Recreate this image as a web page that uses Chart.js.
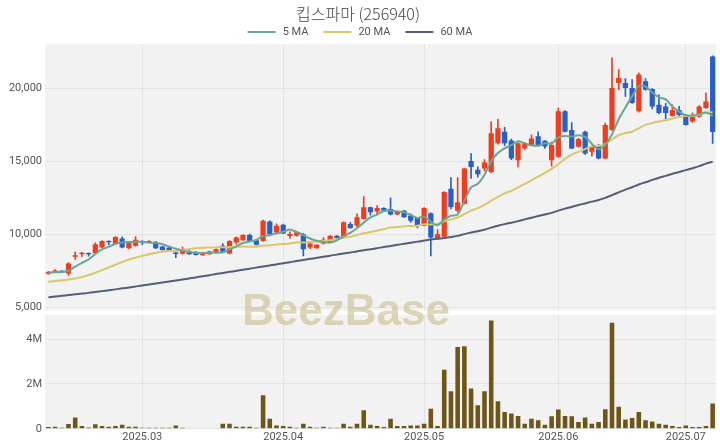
<!DOCTYPE html>
<html><head><meta charset="utf-8">
<script src="https://cdn.jsdelivr.net/npm/chart.js@4.4.1/dist/chart.umd.min.js"></script>
<style>html,body{margin:0;padding:0;background:#fff;overflow:hidden}</style>
</head><body><canvas id="c" width="720" height="448"></canvas>
<script>
const dates = [
'2025-02-11','2025-02-12','2025-02-13','2025-02-14','2025-02-17','2025-02-18','2025-02-19','2025-02-20','2025-02-21',
'2025-02-24','2025-02-25','2025-02-26','2025-02-27','2025-02-28',
'2025-03-03','2025-03-04','2025-03-05','2025-03-06','2025-03-07','2025-03-10','2025-03-11','2025-03-12','2025-03-13','2025-03-14',
'2025-03-17','2025-03-18','2025-03-19','2025-03-20','2025-03-21','2025-03-24','2025-03-25','2025-03-26','2025-03-27','2025-03-28','2025-03-31',
'2025-04-01','2025-04-02','2025-04-03','2025-04-04','2025-04-07','2025-04-08','2025-04-09','2025-04-10','2025-04-11',
'2025-04-14','2025-04-15','2025-04-16','2025-04-17','2025-04-18','2025-04-21','2025-04-22','2025-04-23','2025-04-24','2025-04-25',
'2025-04-28','2025-04-29',
'2025-05-01','2025-05-02','2025-05-07','2025-05-08','2025-05-09','2025-05-12','2025-05-13','2025-05-14','2025-05-15','2025-05-16',
'2025-05-19','2025-05-20','2025-05-21','2025-05-22','2025-05-23','2025-05-26','2025-05-27','2025-05-28','2025-05-29','2025-05-30',
'2025-06-02','2025-06-04','2025-06-05','2025-06-09','2025-06-10','2025-06-11','2025-06-12','2025-06-13',
'2025-06-16','2025-06-17','2025-06-18','2025-06-19','2025-06-20','2025-06-23','2025-06-24','2025-06-25','2025-06-26','2025-06-27','2025-06-30',
'2025-07-01','2025-07-02','2025-07-03','2025-07-04','2025-07-07'];

const opens = [7280,7400,7480,7300,8450,8620,8700,8690,9070,9530,
 9300,9700,9030,9190,9530,9450,9460,9140,9070,8730,
 8650,8840,8770,8550,8620,8690,9190,8660,9420,9580,
 9930,9580,9530,10860,10100,10640,9860,9880,9990,9070,
 9030,9350,9420,9880,9760,10690,10570,11030,11830,11550,
 11790,11720,11330,11600,11260,11100,10570,11420,9720,9810,
 13100,11600,12070,15000,14400,14480,14240,16210,17000,16400,
 15060,15860,16090,16700,16380,15060,15290,18400,17130,15970,
 17010,15630,16090,15170,17130,20350,20350,20000,18400,20460,
 19930,18850,18730,18090,18500,18160,17700,18040,18630,22160];
const highs = [7450,7560,7500,8050,8770,8740,8720,9400,9560,9550,
 9830,9800,9440,9830,9550,9560,9500,9160,9090,8750,
 9100,8860,8790,8750,8830,8980,9350,9560,9800,9960,
 10000,9600,10950,10900,10700,10680,10150,10120,10050,9500,
 9280,9750,9900,9900,10830,10800,11380,12570,11850,11950,
 11810,12480,11570,11620,11380,11120,11810,11450,10300,12900,
 13860,13860,14520,15510,14600,15100,17700,17850,17300,16500,
 16250,16280,16800,17000,16400,16300,18630,18450,17640,16550,
 17050,16000,16120,17590,22070,21270,20650,20580,21040,20650,
 19960,19540,18950,18850,18750,18200,18300,18800,19660,22200];
const lows = [7230,7380,7380,7170,8270,8450,8480,8650,9050,9250,
 9280,9050,9000,9150,9280,9400,9000,8880,8820,8380,
 8620,8600,8550,8530,8600,8670,8700,8640,9300,9560,
 9470,9240,9500,9970,10000,10020,9700,9860,8500,9000,
 9010,9300,9400,9700,9740,10390,10500,11000,11300,11400,
 11580,11310,11310,11130,10800,10410,10550,8500,9650,9790,
 11720,11490,12050,13800,13900,14300,14200,16150,16050,15100,
 14590,15800,16050,16050,15860,14640,15250,16990,15840,15950,
 15450,15330,15150,15150,17100,19880,19420,18950,18350,19850,
 18560,18250,17900,18070,18100,17450,17650,17980,18600,16210];
const closes = [7400,7500,7400,7990,8550,8720,8620,9300,9530,9430,
 9800,9070,9420,9600,9420,9520,9030,8910,8840,8640,
 8900,8620,8570,8730,8800,8960,8730,9530,9760,9930,
 9490,9260,10910,9990,10570,10040,10000,10100,8960,9360,
 9260,9600,9880,9720,10800,10410,11150,11830,11490,11790,
 11600,11330,11550,11150,10910,10570,11790,9760,9990,12870,
 11850,12180,14480,14590,14100,14900,16900,17240,16210,15170,
 16210,16220,16550,16090,16000,16090,18400,17010,15860,16500,
 15520,15970,15170,17470,20000,20690,20000,18970,20920,19880,
 18730,18280,18280,18500,18160,17470,18160,18730,19080,16980];
const volumes = [80000,90000,50000,210000,500000,120000,60000,200000,120000,90000,
 120000,180000,90000,90000,50000,50000,50000,50000,50000,150000,
 50000,30000,30000,30000,30000,30000,220000,220000,90000,90000,
 90000,50000,1500000,450000,150000,120000,90000,50000,220000,90000,
 50000,90000,50000,50000,220000,90000,220000,830000,180000,120000,
 80000,450000,120000,120000,150000,150000,220000,900000,120000,2630000,
 1680000,3650000,3680000,1800000,1050000,1680000,4830000,1230000,750000,680000,
 570000,230000,450000,380000,180000,560000,860000,570000,560000,300000,
 500000,230000,300000,870000,4730000,980000,420000,480000,750000,380000,
 330000,230000,180000,120000,80000,150000,80000,80000,120000,1130000];
const ma5 = [7350,7380,7400,7480,7768,8032,8256,8636,8944,9120,
 9336,9426,9450,9464,9462,9406,9398,9296,9144,8988,
 8864,8782,8714,8692,8724,8736,8758,8950,9156,9382,
 9488,9594,9870,9916,10044,10154,10302,10140,9934,9692,
 9536,9456,9412,9564,9852,10082,10392,10782,11136,11334,
 11572,11608,11552,11484,11308,11102,11194,10836,10604,10996,
 11252,11330,12274,13194,13440,14050,14994,15546,15870,16084,
 16346,16210,16072,16048,16214,16190,16626,16718,16672,16772,
 16658,16172,15804,16126,16826,17860,18666,19426,20116,20092,
 19700,19356,19218,18734,18390,18138,18114,18204,18320,18084];
const ma20 = [6730,6780,6830,6890,6960,7050,7190,7350,7530,7720,
 7900,8080,8250,8380,8510,8620,8720,8800,8830,8835,
 8910,8966,9024,9061,9074,9086,9091,9103,9114,9139,
 9124,9133,9208,9227,9285,9311,9359,9419,9425,9461,
 9479,9528,9593,9643,9743,9815,9936,10051,10138,10231,
 10336,10440,10472,10530,10547,10573,10663,10646,10697,10873,
 11002,11131,11361,11605,11770,11994,12282,12552,12788,12957,
 13188,13432,13682,13929,14184,14460,14790,15153,15446,15628,
 15811,16001,16035,16179,16474,16764,16919,17005,17241,17476,
 17602,17705,17792,17912,18020,18089,18077,18163,18324,18348];
const ma60 = [5670,5720,5770,5820,5870,5920,5970,6030,6090,6150,
 6210,6280,6340,6410,6480,6540,6610,6680,6750,6820,
 6890,6960,7030,7110,7180,7260,7330,7410,7480,7550,
 7630,7700,7780,7850,7920,8000,8070,8150,8220,8300,
 8370,8440,8520,8590,8670,8740,8810,8890,8960,9030,
 9110,9180,9260,9330,9400,9480,9550,9620,9680,9722,
 9797,9875,9993,10103,10195,10298,10436,10569,10680,10776,
 10882,11002,11120,11229,11338,11448,11604,11739,11856,11987,
 12097,12220,12330,12475,12662,12858,13045,13203,13389,13545,
 13709,13859,13982,14124,14250,14374,14510,14654,14822,14949];
const priceTicks = [5000, 10000, 15000, 20000];
const volumeTicks = [0, 2000000, 4000000];
const priceRange = [4750, 23000];
const volumeRange = [0, 5270000];
const title = '킵스파마 (256940)';
const maNames = ['5 MA', '20 MA', '60 MA'];
const watermark = 'BeezBase';

const UP = '#ee3e1f', DOWN = '#2a5fc8';
const MA_COLORS = ['#6aa595', '#dcc56a', '#545e7c'];
const candleColors = closes.map((c, i) => c >= opens[i] ? UP : DOWN);
const bodies = opens.map((o, i) => [o, closes[i]]);
const wicks = lows.map((l, i) => [l, highs[i]]);
const monthTickIdx = dates.map((d, i) => (i > 0 && d.slice(0,7) !== dates[i-1].slice(0,7)) ? i : -1).filter(i => i >= 0);
const GAP = 4;
const GRID = '#e3e3e3';
const TICKFONT = {family: 'Roboto, "Noto Sans", sans-serif', size: 11};

const panelPlugin = {
  id: 'panels',
  beforeDraw(chart) {
    const {ctx, chartArea: a, scales} = chart;
    const y = scales.y, v = scales.yv;
    ctx.save();
    ctx.fillStyle = '#f2f2f2';
    ctx.fillRect(a.left, y.top, a.right - a.left, y.bottom - y.top);
    ctx.fillRect(a.left, v.top + GAP, a.right - a.left, v.bottom - v.top - GAP);
    ctx.restore();
  },
  beforeDatasetsDraw(chart) {
    const {ctx, chartArea: a, scales} = chart;
    const y = scales.y, v = scales.yv;
    ctx.save();
    ctx.fillStyle = '#ffffff';
    const gTop = Math.min(y.bottom, v.top), gH = Math.abs(v.top + GAP - y.bottom);
    ctx.fillRect(a.left, gTop, a.right - a.left, Math.min(gH, 8));
    ctx.font = 'bold 44px "Liberation Sans", Arial, sans-serif';
    ctx.fillStyle = 'rgba(200,186,135,0.58)';
    ctx.textAlign = 'center';
    ctx.textBaseline = 'middle';
    ctx.fillText(watermark, 346, y.bottom + 2);
    ctx.restore();
  },
  afterDraw(chart) {
    // legend row for the moving-average lines
    const ctx = chart.ctx;
    ctx.save();
    ctx.font = '11px Roboto, "Noto Sans", sans-serif';
    ctx.textBaseline = 'middle';
    const sw = 28, tg = 7, gap = 15, ly = 32;
    const widths = maNames.map(n => sw + tg + ctx.measureText(n).width);
    const total = widths.reduce((s, w) => s + w, 0) + gap * (maNames.length - 1);
    let x = 360 - total / 2;
    maNames.forEach((n, i) => {
      ctx.fillStyle = MA_COLORS[i];
      ctx.fillRect(x, ly - 1, sw, 2);
      ctx.fillStyle = '#555';
      ctx.fillText(n, x + sw + tg, ly);
      x += widths[i] + gap;
    });
    ctx.restore();
  }
};

const lineDs = (label, data, color) => ({
  type: 'line', label, data, yAxisID: 'y', borderColor: color, backgroundColor: color,
  borderWidth: 2, pointRadius: 0, tension: 0.3, order: 0
});

new Chart(document.getElementById('c'), {
  type: 'bar',
  data: {
    labels: dates,
    datasets: [
      lineDs(maNames[0], ma5, MA_COLORS[0]),
      lineDs(maNames[1], ma20, MA_COLORS[1]),
      lineDs(maNames[2], ma60, MA_COLORS[2]),
      {label: 'body', data: bodies, yAxisID: 'y', backgroundColor: candleColors, grouped: false,
       barPercentage: 0.78, categoryPercentage: 1, borderWidth: 0, borderSkipped: false, order: 2},
      {label: 'wick', data: wicks, yAxisID: 'y', backgroundColor: candleColors, grouped: false,
       barThickness: 1, borderWidth: 0, borderSkipped: false, order: 3},
      {label: 'volume', data: volumes, yAxisID: 'yv', backgroundColor: '#6e5618', grouped: false,
       barPercentage: 0.68, categoryPercentage: 1, borderWidth: 0, order: 4}
    ]
  },
  options: {
    responsive: false, animation: false, devicePixelRatio: 1,
    layout: {padding: {left: 0, right: 4, top: 0, bottom: 2}},
    plugins: {
      tooltip: {enabled: false},
      legend: {display: false},
      title: {display: true, text: title, color: '#444',
        font: {family: '"Noto Sans CJK KR", sans-serif', size: 16, weight: 300},
        padding: {top: 4, bottom: 21}}
    },
    scales: {
      x: {
        type: 'category', offset: true,
        grid: {offset: false, color: GRID, drawTicks: false},
        border: {display: false},
        ticks: {autoSkip: false, maxRotation: 0, color: '#555', font: TICKFONT, padding: 2,
          callback: function(v) { return dates[v].slice(0,7).replace('-', '.'); }},
        afterBuildTicks: (s) => { s.ticks = monthTickIdx.map(i => ({value: i})); }
      },
      yv: {
        type: 'linear', position: 'left', stack: 'main', stackWeight: 117,
        min: volumeRange[0], max: volumeRange[1],
        grid: {color: GRID, drawTicks: false}, border: {display: false},
        ticks: {color: '#555', font: TICKFONT, padding: 3,
          callback: (v) => v === 0 ? '0' : (v / 1000000) + 'M'},
        afterBuildTicks: (s) => { s.ticks = volumeTicks.map(v => ({value: v})); },
        afterFit: (s) => { s.width = 45; }
      },
      y: {
        type: 'linear', position: 'left', stack: 'main', stackWeight: 264,
        min: priceRange[0], max: priceRange[1],
        grid: {color: GRID, drawTicks: false}, border: {display: false},
        ticks: {color: '#555', font: TICKFONT, padding: 3,
          callback: (v) => v.toLocaleString('en-US')},
        afterBuildTicks: (s) => { s.ticks = priceTicks.map(v => ({value: v})); },
        afterFit: (s) => { s.width = 45; }
      }
    }
  },
  plugins: [panelPlugin]
});
</script>
</body></html>
